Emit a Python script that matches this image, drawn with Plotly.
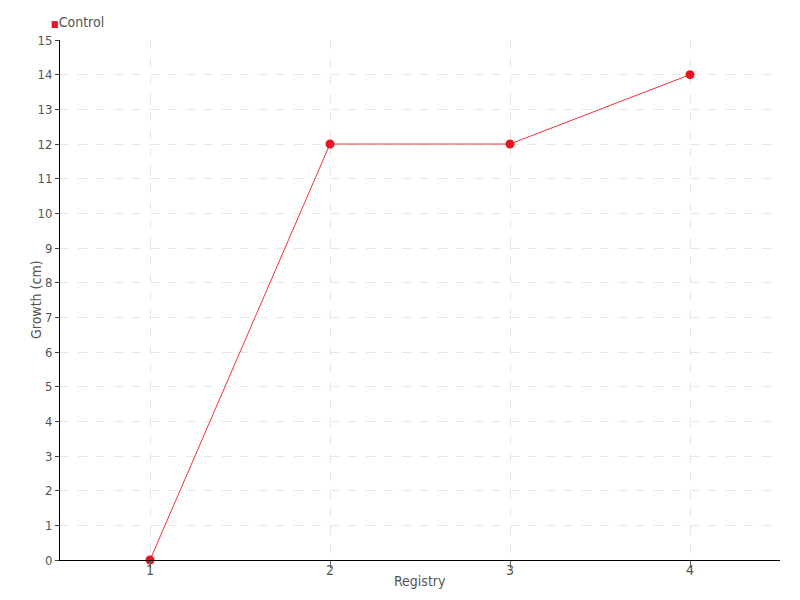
import plotly.graph_objects as go

registry = [1, 2, 3, 4]
control = [0, 12, 12, 14]
y_ticks = list(range(0, 16))

FONT = "DejaVu Sans Condensed, Liberation Sans Narrow, sans-serif"
TXT = "#555555"
RED = "#e8141f"

# page body has an 8px default margin; margins compensate so the plot area
# lands at screen x 60..780, y 40..560
fig = go.Figure()
fig.add_trace(go.Scatter(
    x=registry, y=control, mode="lines+markers", name="Control",
    line=dict(color="#f5303c", width=1),
    marker=dict(color=RED, size=9, symbol="circle"),
    showlegend=False, cliponaxis=False,
))

fig.update_layout(
    width=800, height=600,
    paper_bgcolor="white", plot_bgcolor="white",
    margin=dict(l=52, r=28, t=32, b=48, autoexpand=False),
    font=dict(family=FONT, size=13, color=TXT),
    showlegend=False,
    xaxis=dict(
        range=[0.5, 4.5], tickvals=registry, ticktext=[str(v) for v in registry],
        showline=True, linecolor="black", linewidth=1,
        ticks="outside", ticklen=7, tickcolor="#666666",
        ticklabelstandoff=-10,
        showgrid=True, gridcolor="#e6e6e6", griddash="dash", gridwidth=1,
        zeroline=False, automargin=False,
        tickfont=dict(size=14, color=TXT),
    ),
    yaxis=dict(
        range=[0, 15], tickvals=y_ticks,
        showline=True, linecolor="black", linewidth=1,
        ticks="outside", ticklen=4, tickcolor="#444444",
        showgrid=True, gridcolor="#e6e6e6", griddash="dash", gridwidth=1,
        zeroline=False, automargin=False,
        tickfont=dict(size=13, color=TXT),
    ),
    annotations=[
        dict(text="Registry", xref="paper", yref="paper", x=0.5, y=-21/520,
             xanchor="center", yanchor="middle", showarrow=False,
             font=dict(size=14, color=TXT)),
        dict(text="Growth (cm)", xref="paper", yref="paper", x=-24/720, y=0.5,
             xanchor="center", yanchor="middle", showarrow=False, textangle=-90,
             font=dict(size=14, color=TXT)),
        dict(text=f"<span style='color:{RED};font-size:9px'>■</span>Control",
             xref="paper", yref="paper", x=-11/720, y=1 + 18/520,
             xanchor="left", yanchor="middle", showarrow=False,
             font=dict(size=14, color=TXT)),
    ],
)

fig.write_html("out.html")
